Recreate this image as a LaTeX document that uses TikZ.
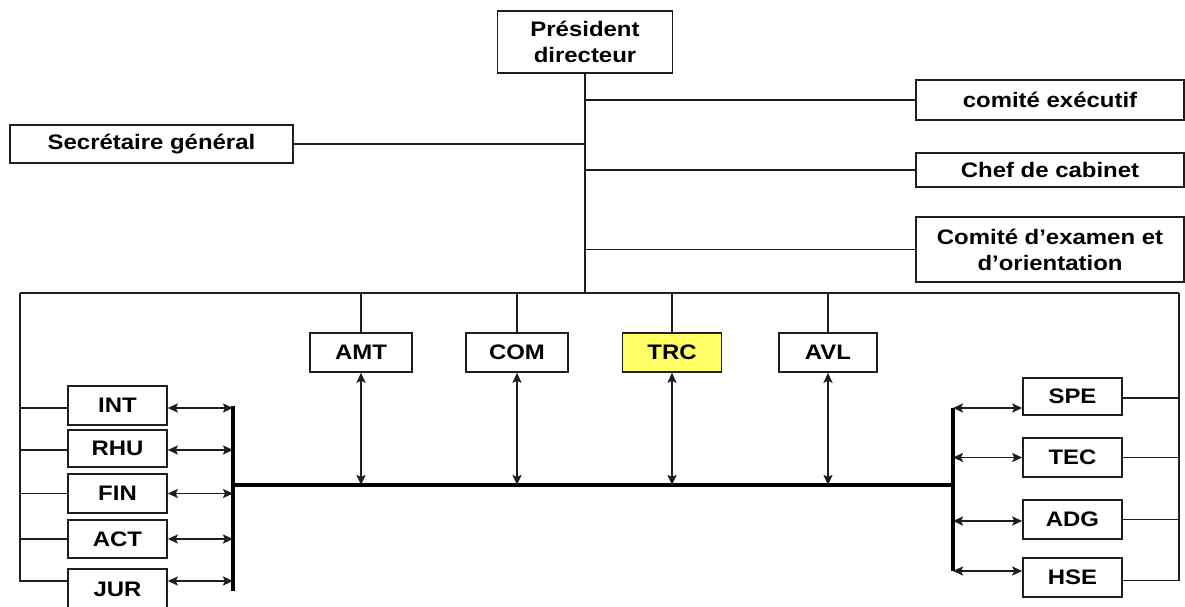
\documentclass[tikz,border=0pt]{standalone}
\usepackage{fontspec}
\setmainfont{Liberation Sans}[FakeStretch=1.14]
\usetikzlibrary{arrows.meta}
\definecolor{trcyellow}{RGB}{255,255,102}
\definecolor{ln}{RGB}{30,30,30}
\tikzset{
  box/.style={draw=ln, line width=1.6pt, fill=white, inner sep=0pt, align=center,
    font=\fontsize{21}{26}\selectfont\bfseries, text=black},
  wire/.style={draw=ln, line width=1.8pt},
  thick bar/.style={draw=black, line width=3.4pt},
  twoway/.style={wire, {Stealth[length=10pt,width=9pt,inset=2pt]}-{Stealth[length=10pt,width=9pt,inset=2pt]}}
}
\begin{document}
\begin{tikzpicture}[x=1pt,y=-1pt]
\useasboundingbox[fill=white] (0,0) rectangle (1185,607);

% connector skeleton coordinates
\coordinate (tl) at (20,293);
\coordinate (tr) at (1179,293);
\coordinate (tm) at (585,293);
\coordinate (busL) at (233,485);
\coordinate (busR) at (953,485);
\coordinate (lbarT) at (233,406);
\coordinate (lbarB) at (233,591);
\coordinate (rbarT) at (953,408);
\coordinate (rbarB) at (953,571);

% top
\node[box, minimum width=175pt, minimum height=62pt] (pd) at (585,42) {Président\\directeur};
\node[box, minimum width=268pt, minimum height=40pt] (ce) at (1050,100) {comité exécutif};
\node[box, minimum width=268pt, minimum height=34pt] (cc) at (1050,170) {Chef de cabinet};
\node[box, minimum width=268pt, minimum height=65pt] (cx) at (1050,249.5) {Comité d’examen et\\d’orientation};
\node[box, minimum width=283pt, minimum height=38pt] (sg) at (151.5,144) {Secrétaire général};

% middle row
\node[box, minimum width=102pt, minimum height=39pt] (amt) at (361,352.5) {AMT};
\node[box, minimum width=102pt, minimum height=39pt] (com) at (517,352.5) {COM};
\node[box, minimum width=99pt, minimum height=39pt, fill=trcyellow] (trc) at (672,352.5) {TRC};
\node[box, minimum width=98pt, minimum height=39pt] (avl) at (828,352.5) {AVL};

% left column
\node[box, minimum width=99pt, minimum height=39pt] (int) at (117.5,405.5) {INT};
\node[box, minimum width=99pt, minimum height=37pt] (rhu) at (117.5,448.5) {RHU};
\node[box, minimum width=99pt, minimum height=39pt] (fin) at (117.5,493.5) {FIN};
\node[box, minimum width=99pt, minimum height=38pt] (act) at (117.5,539) {ACT};
\node[box, minimum width=99pt, minimum height=40pt] (jur) at (117.5,589) {JUR};

% right column
\node[box, minimum width=99pt, minimum height=37pt] (spe) at (1072.5,396.5) {SPE};
\node[box, minimum width=99pt, minimum height=39pt] (tec) at (1072.5,457.5) {TEC};
\node[box, minimum width=99pt, minimum height=39pt] (adg) at (1072.5,519.5) {ADG};
\node[box, minimum width=99pt, minimum height=39pt] (hse) at (1072.5,577.5) {HSE};

% trunk and staff links
\draw[wire] (pd.south) -- (tm);
\draw[wire] (ce.west) -- (ce.west -| tm);
\draw[wire] (cc.west) -- (cc.west -| tm);
\draw[wire] (cx.west) -- (cx.west -| tm);
\draw[wire] (sg.east) -- (sg.east -| tm);

% top distribution bar
\draw[wire] (tl) -- (tr);
\draw[wire] (amt.north |- tm) -- (amt.north);
\draw[wire] (com.north |- tm) -- (com.north);
\draw[wire] (trc.north |- tm) -- (trc.north);
\draw[wire] (avl.north |- tm) -- (avl.north);

% left side hierarchy
\draw[wire] (tl) |- ([yshift=8pt]jur.west);
\draw[wire] ([yshift=-2.5pt]int.west -| tl) -- ([yshift=-2.5pt]int.west);
\draw[wire] ([yshift=-1.5pt]rhu.west -| tl) -- ([yshift=-1.5pt]rhu.west);
\draw[wire] (fin.west -| tl) -- (fin.west);
\draw[wire] (act.west -| tl) -- (act.west);

% right side hierarchy
\draw[wire] (tr) |- ([yshift=-3pt]hse.east);
\draw[wire] ([yshift=-1.5pt]spe.east) -- ([yshift=-1.5pt]spe.east -| tr);
\draw[wire] (tec.east) -- (tec.east -| tr);
\draw[wire] (adg.east) -- (adg.east -| tr);

% bus
\draw[thick bar] (busL) -- (busR);
\draw[thick bar] (lbarT) -- (lbarB);
\draw[thick bar] (rbarT) -- (rbarB);

% vertical two-way arrows
\draw[twoway] (amt.south) -- (amt.south |- busL);
\draw[twoway] (com.south) -- (com.south |- busL);
\draw[twoway] (trc.south) -- (trc.south |- busL);
\draw[twoway] (avl.south) -- (avl.south |- busL);

% left two-way arrows
\draw[twoway] ([yshift=-2.5pt]int.east) -- ([yshift=-2.5pt]int.east -| lbarT);
\draw[twoway] ([yshift=-1.5pt]rhu.east) -- ([yshift=-1.5pt]rhu.east -| lbarT);
\draw[twoway] (fin.east) -- (fin.east -| lbarT);
\draw[twoway] (act.east) -- (act.east -| lbarT);
\draw[twoway] ([yshift=8pt]jur.east) -- ([yshift=8pt]jur.east -| lbarT);

% right two-way arrows
\draw[twoway] (rbarT) -- (rbarT -| spe.west);
\draw[twoway] (tec.west -| rbarT) -- (tec.west);
\draw[twoway] ([yshift=-1.5pt]adg.west -| rbarT) -- ([yshift=-1.5pt]adg.west);
\draw[twoway] (rbarB) -- (rbarB -| hse.west);
\end{tikzpicture}
\end{document}
